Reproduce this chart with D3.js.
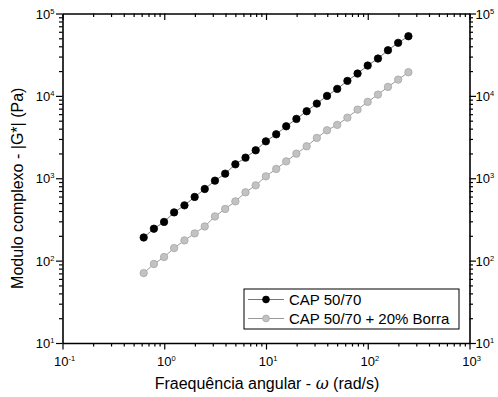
<!DOCTYPE html>
<html>
<head>
<meta charset="utf-8">
<script src="https://cdn.jsdelivr.net/npm/d3@7"></script>
<style>
  body { margin: 0; background: #fff; }
  text { font-family: "Liberation Sans", Arial, sans-serif; fill: #000; }
</style>
</head>
<body>
<div id="chart"></div>
<script>
// frequencies (rad/s)
var omega = [0.628, 0.791, 0.996, 1.25, 1.58, 1.99, 2.50, 3.15, 3.97, 5.00, 6.29, 7.92, 9.97,
             12.6, 15.8, 19.9, 25.1, 31.6, 39.8, 50.1, 63.1, 79.4, 99.9, 126, 158, 199, 251];
// |G*| (Pa)
var cap = [191, 244, 295, 385, 469, 593, 741, 935, 1137, 1476, 1779, 2183, 2807,
           3414, 4272, 5255, 6506, 8060, 10000, 12160, 15210, 18660, 23340, 28380, 35800, 44040, 52970];
var capBorra = [70.6, 91, 110.6, 142, 176, 214, 260, 344, 424, 524, 675, 820, 1055,
                1297, 1604, 1989, 2442, 3090, 3822, 4446, 5448, 6816, 8457, 10370, 12860, 15770, 19360];
var seriesNames = ["CAP 50/70", "CAP 50/70 + 20% Borra"];
var xDecades = [-1, 0, 1, 2, 3];
var yDecades = [1, 2, 3, 4, 5];

var W = 498, H = 397;
// note: "top" is taken by window.top, so use m* names
var mLeft = 62.5, mRight = 469.5, mTop = 13.5, mBottom = 343;

var svg = d3.select("#chart").append("svg").attr("width", W).attr("height", H);

var x = d3.scaleLog().domain([0.1, 1000]).range([mLeft, mRight]);
var y = d3.scaleLog().domain([10, 100000]).range([mBottom, mTop]);

// minor ticks 2..9 in every decade
function minors(dom) {
  var out = [];
  for (var e = Math.round(Math.log10(dom[0])); e < Math.round(Math.log10(dom[1])); e++)
    for (var m = 2; m <= 9; m++) out.push(m * Math.pow(10, e));
  return out;
}
var xMaj = xDecades.map(function(e){ return Math.pow(10, e); });
var yMaj = yDecades.map(function(e){ return Math.pow(10, e); });

function drawAxis(axisFn, scale, tr, inner) {
  var g = svg.append("g").attr("transform", tr);
  g.append("g").call(axisFn(scale).tickValues(minors(scale.domain())).tickSize(inner ? -3.5 : 3.5).tickFormat(""))
   .call(function(s){ s.select(".domain").remove(); });
  g.append("g").call(axisFn(scale).tickValues(scale === x ? xMaj : yMaj).tickSize(inner ? -6.5 : 6.5).tickFormat("").tickSizeOuter(0))
   .call(function(s){ s.select(".domain").attr("stroke-width", 1.6); });
  g.selectAll(".tick line").attr("stroke-width", 1.2);
  return g;
}
drawAxis(d3.axisBottom, x, "translate(0," + mBottom + ")", false);
drawAxis(d3.axisTop, x, "translate(0," + mTop + ")", true);
drawAxis(d3.axisLeft, y, "translate(" + mLeft + ",0)", false);
drawAxis(d3.axisRight, y, "translate(" + mRight + ",0)", false);

// power-of-ten labels
function powLabel(px, py, e, anchor) {
  var t = svg.append("text").attr("x", px).attr("y", py).attr("text-anchor", anchor).style("font-size", "13px");
  t.append("tspan").text("10");
  t.append("tspan").attr("dy", -5).style("font-size", "7.5px").text(e);
  return t;
}
xDecades.forEach(function(e){ powLabel(x(Math.pow(10, e)) + 2, mBottom + 23, e, "middle"); });
yDecades.forEach(function(e){
  powLabel(mLeft - 8, y(Math.pow(10, e)) + 5, e, "end");
  powLabel(mRight + 6, y(Math.pow(10, e)) + 5, e, "start");
});

// axis titles
var xt = svg.append("text").attr("x", (mLeft + mRight) / 2 + 1).attr("y", mBottom + 46)
  .attr("text-anchor", "middle").style("font-size", "16px");
xt.append("tspan").text("Fraequência angular - ");
xt.append("tspan").style("font-family", "'DejaVu Serif', serif").style("font-style", "italic").text("ω");
xt.append("tspan").text(" (rad/s)");

svg.append("text").attr("transform", "translate(23," + ((mTop + mBottom) / 2 + 10) + ") rotate(-90)")
  .attr("text-anchor", "middle").style("font-size", "16px").text("Modulo complexo - |G*| (Pa)");

// series
var styles = [
  { fill: "#000", stroke: "#000", line: "#777" },
  { fill: "#c2c2c2", stroke: "#a6a6a6", line: "#999" }
];
var line = d3.line().x(function(d){ return x(d[0]); }).y(function(d){ return y(d[1]); });
[cap, capBorra].forEach(function(vals, i) {
  var pts = omega.map(function(w, k){ return [w, vals[k]]; });
  svg.append("path").datum(pts).attr("d", line).attr("fill", "none")
     .attr("stroke", styles[i].line).attr("stroke-width", 1);
  svg.append("g").selectAll("circle").data(pts).enter().append("circle")
     .attr("cx", function(d){ return x(d[0]); })
     .attr("cy", function(d){ return y(d[1]); })
     .attr("r", 3.7)
     .attr("fill", styles[i].fill).attr("stroke", styles[i].stroke).attr("stroke-width", 0.8);
});

// legend
var lg = svg.append("g").attr("transform", "translate(244,289)");
lg.append("rect").attr("width", 215).attr("height", 40).attr("fill", "#fff")
  .attr("stroke", "#000").attr("stroke-width", 1);
seriesNames.forEach(function(name, i) {
  var cy = 10.5 + i * 19;
  lg.append("line").attr("x1", 4).attr("x2", 40).attr("y1", cy).attr("y2", cy)
    .attr("stroke", styles[i].line).attr("stroke-width", 1);
  lg.append("circle").attr("cx", 22).attr("cy", cy).attr("r", 3.4)
    .attr("fill", styles[i].fill).attr("stroke", styles[i].stroke).attr("stroke-width", 0.8);
  lg.append("text").attr("x", 45).attr("y", cy + 5.5).style("font-size", "15px").text(name);
});
</script>
</body>
</html>
